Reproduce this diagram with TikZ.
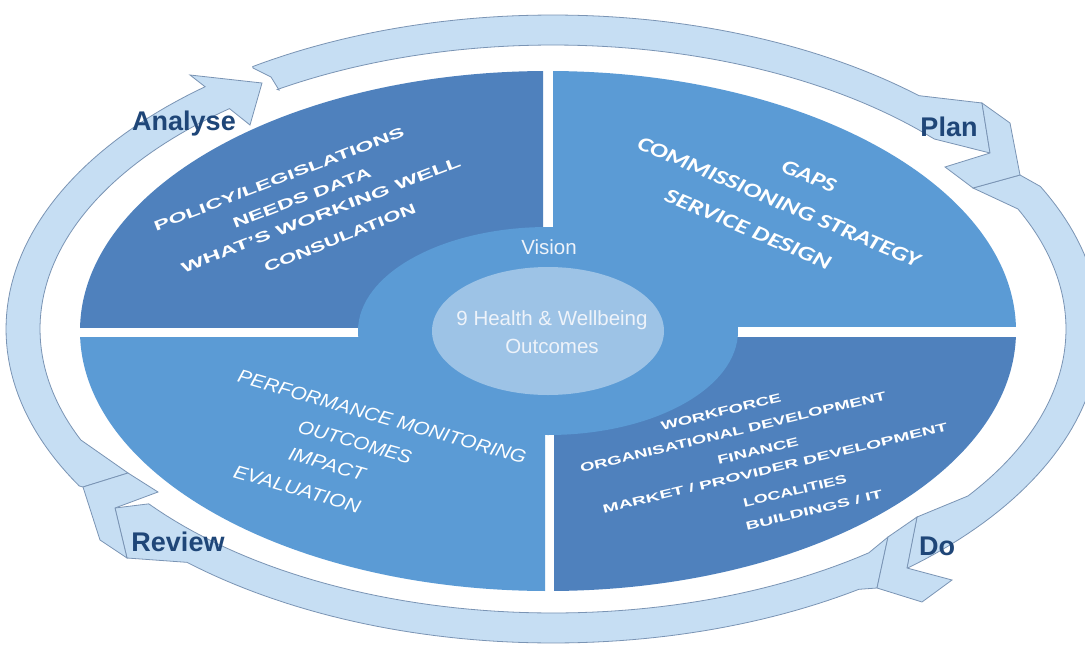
\documentclass[tikz,border=0pt]{standalone}
\usepackage{fontspec}
\setmainfont{Liberation Sans}
\newfontfamily\carl{Carlito}
\usepackage{graphicx}
\definecolor{qdark}{RGB}{79,129,189}
\definecolor{qlight}{RGB}{91,155,213}
\definecolor{qinner}{RGB}{157,195,230}
\definecolor{ringfill}{RGB}{198,222,243}
\definecolor{ringline}{RGB}{122,148,180}
\definecolor{lblcol}{RGB}{31,70,120}
\definecolor{ctext}{RGB}{238,243,250}
\newcommand\fitt[3]{\resizebox{#1pt}{#2pt}{#3}}
\begin{document}
\begin{tikzpicture}[x=1pt,y=-1pt,
  band/.style={fill=ringfill,draw=ringline,line width=0.8pt,line join=miter},
  lbl/.style={text=lblcol,inner sep=0,font=\fontsize{27}{30}\selectfont\bfseries},
  qtxt/.style={text=white,inner sep=0},
  ctr/.style={text=ctext,inner sep=0,font=\fontsize{20.5}{28}\selectfont}]
\useasboundingbox (0,0) rectangle (1085,648);
\fill[white] (0,0) rectangle (1085,648);
% quadrants
\begin{scope}
  \clip (0,0) rectangle (543,327);
  \fill[qdark] (548,331) ellipse [x radius=468,y radius=260];
\end{scope}
\begin{scope}
  \clip (553,0) rectangle (1085,326);
  \fill[qlight] (548,331) ellipse [x radius=468,y radius=260];
\end{scope}
\begin{scope}
  \clip (0,337) rectangle (545,648);
  \fill[qlight] (548,331) ellipse [x radius=468,y radius=260];
\end{scope}
\begin{scope}
  \clip (554,337) rectangle (1085,648);
  \fill[qdark] (548,331) ellipse [x radius=468,y radius=260];
\end{scope}
% centre
\fill[qlight] (548,331) ellipse [x radius=190,y radius=104];
\fill[qinner] (548,331) ellipse [x radius=116,y radius=64];
\node[ctr] (vision) at (549,247) {Vision};
\node[ctr,align=center] (outc) at (552,332) {9 Health \& Wellbeing\\Outcomes};
% ring bands
\path[band] (279,90) -- (271,77) -- (253,68)
  -- plot[domain=-123.3:-48,samples=60] ({553+547*cos(\x)},{329+314*sin(\x)})
  -- (982,103) -- (990,153)
  -- plot[domain=-42:-122.5,samples=60] ({553+513*cos(\x)},{329+284*sin(\x)})
  -- cycle;
\path[band] (973,188) -- (1020,175)
  -- plot[domain=-27:49.7,samples=60] ({553+547*cos(\x)},{329+314*sin(\x)})
  -- (917,517)
  -- plot[domain=36:-25,samples=60] ({553+513*cos(\x)},{329+284*sin(\x)})
  -- cycle;
\path[band] (888,537) -- (877,588)
  -- plot[domain=56:132,samples=60] ({553+547*cos(\x)},{329+314*sin(\x)})
  -- (127,558) -- (115,508)
  -- plot[domain=142:52,samples=60] ({553+513*cos(\x)},{329+284*sin(\x)})
  -- cycle;
\path[band] (128,473) -- (83,487)
  -- plot[domain=150:230.5,samples=60] ({553+547*cos(\x)},{329+314*sin(\x)})
  -- (190,75) -- (262,83) -- (250,125)
  -- plot[domain=230.9:157,samples=60] ({553+513*cos(\x)},{329+284*sin(\x)})
  -- cycle;
% chevron heads
\path[band] (982,103) -- (1010,123) -- (1020,175) -- (973,188) -- (945,167) -- (990,153) -- cycle;
\path[band] (917,517) -- (888,537) -- (877,588) -- (922,602) -- (952,580) -- (907,568) -- cycle;
\path[band] (127,558) -- (100,540) -- (83,487) -- (128,473) -- (158,492) -- (115,508) -- cycle;
% stage labels
\node[lbl] (analyse) at (184,124) {Analyse};
\node[lbl] (plan) at (949,127) {Plan};
\node[lbl] (do) at (937,546) {Do};
\node[lbl] (review) at (178,542) {Review};
% upper-left quadrant text
\node[qtxt,rotate=21] (ul1) at (279,179) {\fitt{267}{10}{\bfseries POLICY/LEGISLATIONS}};
\node[qtxt,rotate=21] (ul2) at (302,198) {\fitt{147}{10}{\bfseries NEEDS DATA}};
\node[qtxt,rotate=21] (ul3) at (321,215) {\fitt{298}{10}{\bfseries WHAT'S WORKING WELL}};
\node[qtxt,rotate=22] (ul4) at (340,238) {\fitt{162}{10}{\bfseries CONSULATION}};
% upper-right quadrant text
\node[qtxt,rotate=-23] (ur1) at (809,176) {\fitt{57}{13.5}{\carl\bfseries\itshape GAPS}};
\node[qtxt,rotate=-23] (ur2) at (779,202) {\fitt{305}{13.5}{\carl\bfseries\itshape COMMISSIONING STRATEGY}};
\node[qtxt,rotate=-23] (ur3) at (748,229) {\fitt{178}{13.5}{\carl\bfseries\itshape SERVICE DESIGN}};
% lower-left quadrant text
\node[qtxt,rotate=-16] (ll1) at (382,417) {\fitt{299}{13}{\itshape PERFORMANCE MONITORING}};
\node[qtxt,rotate=-16] (ll2) at (355,442) {\fitt{117}{13}{\itshape OUTCOMES}};
\node[qtxt,rotate=-16] (ll3) at (327,464) {\fitt{79}{13}{\itshape IMPACT}};
\node[qtxt,rotate=-16] (ll4) at (297,489) {\fitt{131}{13}{\itshape EVALUATION}};
% lower-right quadrant text
\node[qtxt,rotate=13.5] (lr1) at (721,412) {\fitt{123}{8.5}{\bfseries WORKFORCE}};
\node[qtxt,rotate=13.5] (lr2) at (733,432) {\fitt{314}{8.5}{\bfseries ORGANISATIONAL DEVELOPMENT}};
\node[qtxt,rotate=13.5] (lr3) at (758,451) {\fitt{83}{8.5}{\bfseries FINANCE}};
\node[qtxt,rotate=13.5] (lr4) at (775,468) {\fitt{354}{8.5}{\bfseries MARKET / PROVIDER DEVELOPMENT}};
\node[qtxt,rotate=13.5] (lr5) at (795,491) {\fitt{106}{8.5}{\bfseries LOCALITIES}};
\node[qtxt,rotate=13.5] (lr6) at (814,510) {\fitt{140}{8.5}{\bfseries BUILDINGS / IT}};
\end{tikzpicture}
\end{document}
